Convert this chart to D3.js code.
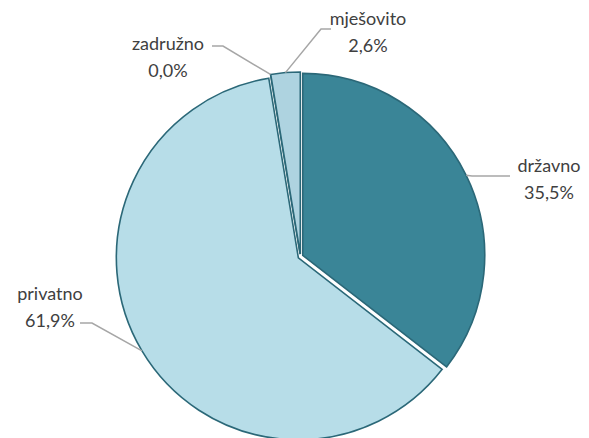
<!DOCTYPE html>
<html>
<head>
<meta charset="utf-8">
<script src="https://cdn.jsdelivr.net/npm/d3@7"></script>
<style>
  body { margin: 0; background: #fff; }
  text { font-family: Lato, "Open Sans", sans-serif; fill: #404040; }
</style>
</head>
<body>
<svg id="chart" width="589" height="438"></svg>
<script>
(function() {
const categories = ['državno', 'privatno', 'zadružno', 'mješovito'];
const values = [35.5, 61.9, 0.0, 2.6];
const valueLabels = ['35,5%', '61,9%', '0,0%', '2,6%'];

const colors = ['#3a8597', '#b7dde8', '#b7dde8', '#aed3e0'];

// label layout: text anchor point (first line baseline), elbow of leader line
const labelLayout = [
  { tx: 549, ty: 172, lineY: 176, elbowX: 472, endX: 510 },
  { tx: 50, ty: 300, lineY: 323, elbowX: 92, endX: 80 },
  { tx: 168, ty: 50, lineY: 46, elbowX: 223, endX: 212 },
  { tx: 368, ty: 25, lineY: 29, elbowX: 321, endX: 331 },
];

const svg = d3.select('svg#chart');
const cx = 300.5, cy = 256.5;
const radius = 182;
const explode = 2.5;

const pie = d3.pie().sort(null).value(d => d.value);
const arcs = pie(categories.map((c, i) => ({ name: c, value: values[i], label: valueLabels[i] })));
const arc = d3.arc().innerRadius(0).outerRadius(radius);

const g = svg.append('g').attr('transform', `translate(${cx},${cy})`);

arcs.forEach((a, i) => {
  const mid = (a.startAngle + a.endAngle) / 2;
  const dx = Math.sin(mid) * explode;
  const dy = -Math.cos(mid) * explode;
  a.dx = dx; a.dy = dy; a.mid = mid;
  g.append('path')
      .attr('transform', `translate(${dx},${dy})`)
      .attr('d', arc(a))
      .attr('fill', colors[i])
      .attr('stroke', '#2b6878')
      .attr('stroke-width', 1.6)
      .attr('stroke-linejoin', 'miter');
});

// leader lines and labels
arcs.forEach((a, i) => {
  const L = labelLayout[i];
  const px = cx + a.dx + Math.sin(a.mid) * radius;
  const py = cy + a.dy - Math.cos(a.mid) * radius;
  svg.append('path')
      .attr('d', d3.line()([[px, py], [L.elbowX, L.lineY], [L.endX, L.lineY]]))
      .attr('fill', 'none')
      .attr('stroke', '#a6a6a6')
      .attr('stroke-width', 1.5);
  const t = svg.append('text')
      .attr('text-anchor', 'middle')
      .attr('font-size', '18px');
  t.append('tspan').attr('x', L.tx).attr('y', L.ty).text(a.data.name);
  t.append('tspan').attr('x', L.tx).attr('y', L.ty + 27).text(a.data.label);
});
})();
</script>
</body>
</html>
